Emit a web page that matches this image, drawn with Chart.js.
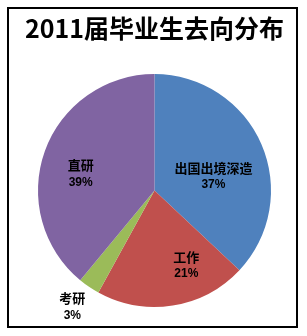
<!DOCTYPE html>
<html>
<head>
<meta charset="utf-8">
<script src="https://cdn.jsdelivr.net/npm/chart.js@4"></script>
<style>
html,body{margin:0;padding:0;background:#fff;}
#wrap{width:307px;height:336px;position:relative;}
</style>
</head>
<body>
<div id="wrap"><canvas id="c" width="307" height="336"></canvas></div>
<script>
const categories = ['出国出境深造', '工作', '考研', '直研'];
const values = [37, 21, 3, 39];
const percentLabels = ['37%', '21%', '3%', '39%'];
const titleText = '2011届毕业生去向分布';

const colors = ['#4F81BD', '#C0504D', '#9BBB59', '#8064A2'];
// label placement: angle tweak (degrees) and distance as fraction of radius
const labelAngleShift = [10, -14, 1, -7];
const labelDist = [0.52, 0.70, 1.223, 0.65];

const framePlugin = {
  id: 'frame',
  afterDraw(chart) {
    const ctx = chart.ctx;
    ctx.save();
    ctx.strokeStyle = '#000';
    ctx.lineWidth = 2;
    ctx.strokeRect(8, 8, 289, 319);
    ctx.restore();
  }
};

const labelPlugin = {
  id: 'sliceLabels',
  afterDatasetsDraw(chart) {
    const ctx = chart.ctx;
    const meta = chart.getDatasetMeta(0);
    ctx.save();
    ctx.fillStyle = '#000';
    ctx.textAlign = 'center';
    ctx.textBaseline = 'middle';
    meta.data.forEach((arc, i) => {
      const p = arc.getProps(['x', 'y', 'startAngle', 'endAngle', 'outerRadius'], true);
      const mid = (p.startAngle + p.endAngle) / 2 + labelAngleShift[i] * Math.PI / 180;
      const d = p.outerRadius * labelDist[i];
      const cx = p.x + Math.cos(mid) * d;
      const cy = p.y + Math.sin(mid) * d;
      ctx.font = 'bold 13px "Noto Sans CJK SC", sans-serif';
      ctx.fillText(categories[i], cx, cy - 8.5);
      ctx.font = 'bold 12px "Liberation Sans", "Noto Sans CJK SC", sans-serif';
      ctx.fillText(percentLabels[i], cx, cy + 8.5);
    });
    ctx.restore();
  }
};

new Chart(document.getElementById('c'), {
  type: 'pie',
  data: {
    labels: categories,
    datasets: [{
      data: values,
      backgroundColor: colors,
      borderWidth: 0,
      hoverOffset: 0,
      radius: 116.5
    }]
  },
  options: {
    responsive: false,
    animation: false,
    events: [],
    layout: { padding: { top: 0, bottom: 29, left: 2, right: 0 } },
    plugins: {
      legend: { display: false },
      tooltip: { enabled: false },
      title: {
        display: true,
        text: titleText,
        color: '#000',
        font: { family: '"Noto Sans CJK SC", "Liberation Sans", sans-serif', size: 25, weight: 'bold', lineHeight: 1.2 },
        padding: { top: 13, bottom: 31 }
      }
    }
  },
  plugins: [labelPlugin, framePlugin]
});
</script>
</body>
</html>
